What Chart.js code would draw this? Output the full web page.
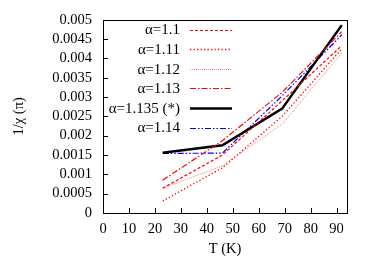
<!DOCTYPE html>
<html>
<head>
<meta charset="utf-8">
<script src="https://cdn.jsdelivr.net/npm/chart.js@4.4.1/dist/chart.umd.min.js"></script>
<style>
  html, body { margin: 0; padding: 0; background: #fff; }
  #wrap { width: 375px; height: 263px; }
</style>
</head>
<body>
<div id="wrap"><canvas id="chart" width="375" height="263"></canvas></div>
<script>
// temperatures (K)
const temps = [23, 46, 69, 92];

// 1/chi values per alpha
const a110 = [0.00064, 0.00150, 0.00290, 0.00433];
const a111 = [0.00031, 0.00117, 0.00250, 0.00425];
const a112 = [0.00064, 0.00122, 0.00230, 0.00414];
const a113 = [0.00085, 0.00187, 0.00312, 0.00469];
const a1135 = [0.00156, 0.00175, 0.00270, 0.00486];
const a114 = [0.00154, 0.00155, 0.00303, 0.00461];

const labels = ['α=1.1', 'α=1.11', 'α=1.12', 'α=1.13', 'α=1.135 (*)', 'α=1.14'];

const xTicks = [0, 10, 20, 30, 40, 50, 60, 70, 80, 90];
const yTicks = [0, 0.0005, 0.001, 0.0015, 0.002, 0.0025, 0.003, 0.0035, 0.004, 0.0045, 0.005];
const yTickLabels = ['0', '0.0005', '0.001', '0.0015', '0.002', '0.0025', '0.003', '0.0035', '0.004', '0.0045', '0.005'];

const serif = "'Liberation Serif', 'Times New Roman', serif";

const toPoints = vals => vals.map((v, i) => ({ x: temps[i], y: v }));

const series = [a110, a111, a112, a113, a1135, a114];
const styles = [
  { color: '#ff0000', width: 1.2, dash: [3, 2] },
  { color: '#ff0000', width: 1.3, dash: [1.3, 2.2] },
  { color: 'rgba(255,70,70,0.7)', width: 1, dash: [1, 1] },
  { color: '#ff0000', width: 1.2, dash: [6, 2, 1.5, 2] },
  { color: '#000000', width: 2.5, dash: [] },
  { color: '#0000ff', width: 1.2, dash: [6, 2, 1.5, 2, 1.5, 2] },
];

const datasets = series.map((vals, i) => ({
  label: labels[i],
  data: toPoints(vals),
  borderColor: styles[i].color,
  borderWidth: styles[i].width,
  borderDash: styles[i].dash,
  pointRadius: 0,
  tension: 0,
  fill: false,
}));

// frame, inner ticks and the gnuplot-like legend
const framePlugin = {
  id: 'frame',
  afterDraw(chart) {
    const { ctx, chartArea: a } = chart;
    const xs = chart.scales.x, ys = chart.scales.y;
    ctx.save();
    ctx.strokeStyle = '#000';
    ctx.lineWidth = 1;
    ctx.setLineDash([]);
    ctx.strokeRect(Math.round(a.left) + 0.5, Math.round(a.top) + 0.5,
      Math.round(a.right - a.left), Math.round(a.bottom - a.top));
    ctx.beginPath();
    xTicks.forEach(t => {
      const px = Math.round(xs.getPixelForValue(t)) + 0.5;
      ctx.moveTo(px, a.bottom);
      ctx.lineTo(px, a.bottom - 5);
    });
    yTicks.forEach(t => {
      const py = Math.round(ys.getPixelForValue(t)) + 0.5;
      ctx.moveTo(a.left, py);
      ctx.lineTo(a.left + 5, py);
    });
    ctx.stroke();

    // legend
    ctx.font = '15px ' + serif;
    ctx.textAlign = 'right';
    ctx.textBaseline = 'middle';
    chart.data.datasets.forEach((ds, i) => {
      const y = 29.5 + i * 19.6;
      ctx.fillStyle = '#000';
      ctx.fillText(ds.label, 180, y + 1);
      ctx.beginPath();
      ctx.strokeStyle = ds.borderColor;
      ctx.lineWidth = ds.borderWidth;
      ctx.setLineDash(ds.borderDash);
      ctx.moveTo(190, Math.round(y) + 0.5);
      ctx.lineTo(232, Math.round(y) + 0.5);
      ctx.stroke();
    });
    ctx.restore();
  }
};

new Chart(document.getElementById('chart'), {
  type: 'line',
  data: { datasets },
  options: {
    responsive: false,
    animation: false,
    layout: { padding: { left: 0, top: 19, right: 28, bottom: 0 } },
    plugins: { legend: { display: false }, tooltip: { enabled: false } },
    scales: {
      x: {
        type: 'linear',
        min: 0,
        max: 94,
        afterBuildTicks: s => { s.ticks = xTicks.map(v => ({ value: v })); },
        afterFit: s => { s.height = 50; },
        grid: { display: false, drawTicks: false },
        border: { display: false },
        ticks: { color: '#000', padding: 7, autoSkip: false, font: { family: serif, size: 14.5 }, maxRotation: 0 },
        title: { display: true, text: 'T (K)', color: '#000', font: { family: serif, size: 14.5 }, padding: { top: 0, bottom: 5 } },
      },
      y: {
        type: 'linear',
        min: 0,
        max: 0.005,
        afterBuildTicks: s => { s.ticks = yTicks.map(v => ({ value: v })); },
        afterFit: s => { s.width = 103; },
        grid: { display: false, drawTicks: false },
        border: { display: false },
        ticks: {
          color: '#000', padding: 11, autoSkip: false, font: { family: serif, size: 14.5 },
          callback: (v, i) => yTickLabels[i],
        },
        title: { display: true, text: '1/χ (π)', color: '#000', font: { family: serif, size: 14.5 }, padding: { top: 10, bottom: 0 } },
      },
    },
  },
  plugins: [framePlugin],
});
</script>
</body>
</html>
